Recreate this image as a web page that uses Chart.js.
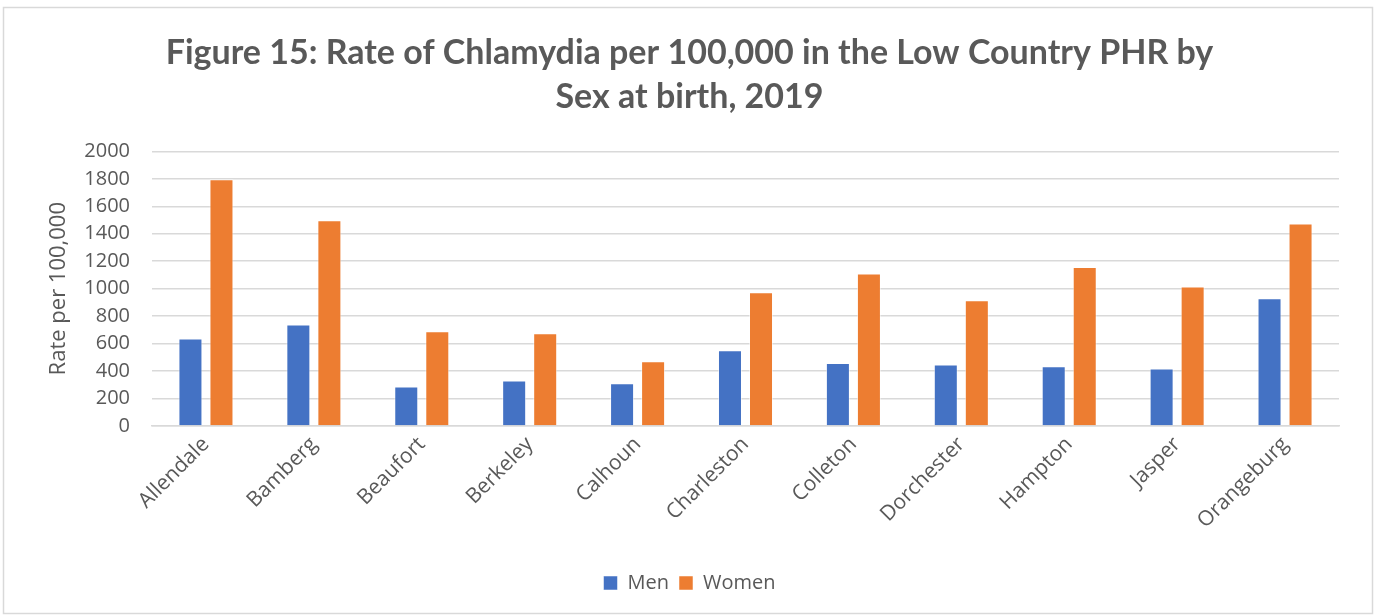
<!DOCTYPE html>
<html>
<head>
<meta charset="utf-8">
<script src="https://cdn.jsdelivr.net/npm/chart.js@4"></script>
<style>
html,body{margin:0;padding:0;background:#fff;}
#wrap{position:relative;width:1377px;height:615px;}
canvas{display:block;}
</style>
</head>
<body>
<div id="wrap"><canvas id="c" width="1377" height="615"></canvas></div>
<script>
const categories = ["Allendale","Bamberg","Beaufort","Berkeley","Calhoun","Charleston","Colleton","Dorchester","Hampton","Jasper","Orangeburg"];
const menValues = [638, 740, 287, 331, 311, 551, 458, 448, 436, 419, 930];
const womenValues = [1797, 1498, 690, 676, 472, 974, 1111, 916, 1158, 1016, 1474];
const yTicks = [0,200,400,600,800,1000,1200,1400,1600,1800,2000];
const titleLines = ["Figure 15: Rate of Chlamydia per 100,000 in the Low Country PHR by","Sex at birth, 2019"];

const TFONT = "Lato, 'Open Sans', sans-serif";
const FONT = "'Open Sans', Lato, sans-serif";
const GRAY = "#595959";

const borderPlugin = {
  id: 'outerBorder',
  beforeDraw(chart) {
    const ctx = chart.ctx;
    ctx.save();
    ctx.fillStyle = '#ffffff';
    ctx.fillRect(0, 0, chart.width, chart.height);
    ctx.strokeStyle = '#d9d9d9';
    ctx.lineWidth = 1.5;
    ctx.strokeRect(3.5, 7.5, chart.width - 8, chart.height - 9);
    ctx.restore();
  }
};

new Chart(document.getElementById('c'), {
  type: 'bar',
  data: {
    labels: categories,
    datasets: [
      { label: 'Men', data: menValues, backgroundColor: '#4472C4', borderColor: 'rgba(255,255,255,0.5)', borderWidth: 1, barPercentage: 0.774, categoryPercentage: 0.575 },
      { label: 'Women', data: womenValues, backgroundColor: '#ED7D31', borderColor: 'rgba(255,255,255,0.5)', borderWidth: 1, barPercentage: 0.774, categoryPercentage: 0.575 }
    ]
  },
  options: {
    responsive: false,
    animation: false,
    devicePixelRatio: 1,
    layout: { padding: { left: 40, right: 38, top: 0, bottom: 12 } },
    plugins: {
      title: {
        display: true,
        text: titleLines,
        color: GRAY,
        font: { family: TFONT, size: 34, weight: 'bold', lineHeight: 1.3 },
        padding: { top: 31, bottom: 32 }
      },
      legend: {
        position: 'bottom',
        labels: {
          color: GRAY,
          font: { family: FONT, size: 20 },
          boxWidth: 14, boxHeight: 14,
          padding: 10
        }
      },
      tooltip: { enabled: false }
    },
    scales: {
      x: {
        grid: { display: false, drawTicks: false },
        border: { display: true, color: '#d9d9d9', width: 1.5 },
        ticks: {
          color: GRAY,
          font: { family: FONT, size: 21 },
          minRotation: 45, maxRotation: 45,
          padding: 6
        },
        afterFit(scale) { scale.height = 137; }
      },
      y: {
        min: 0, max: 2000,
        afterBuildTicks(scale) { scale.ticks = yTicks.map(v => ({ value: v })); },
        grid: { color: '#d9d9d9', lineWidth: 1.5, drawTicks: false },
        border: { display: false },
        ticks: {
          color: GRAY,
          font: { family: FONT, size: 20 },
          padding: 22,
          callback: (v) => String(v)
        },
        title: {
          display: true,
          text: 'Rate per 100,000',
          color: GRAY,
          font: { family: FONT, size: 22 },
          padding: { top: 6, bottom: 0 }
        },
        afterFit(scale) { scale.width = 112; }
      }
    }
  },
  plugins: [borderPlugin]
});
</script>
</body>
</html>
